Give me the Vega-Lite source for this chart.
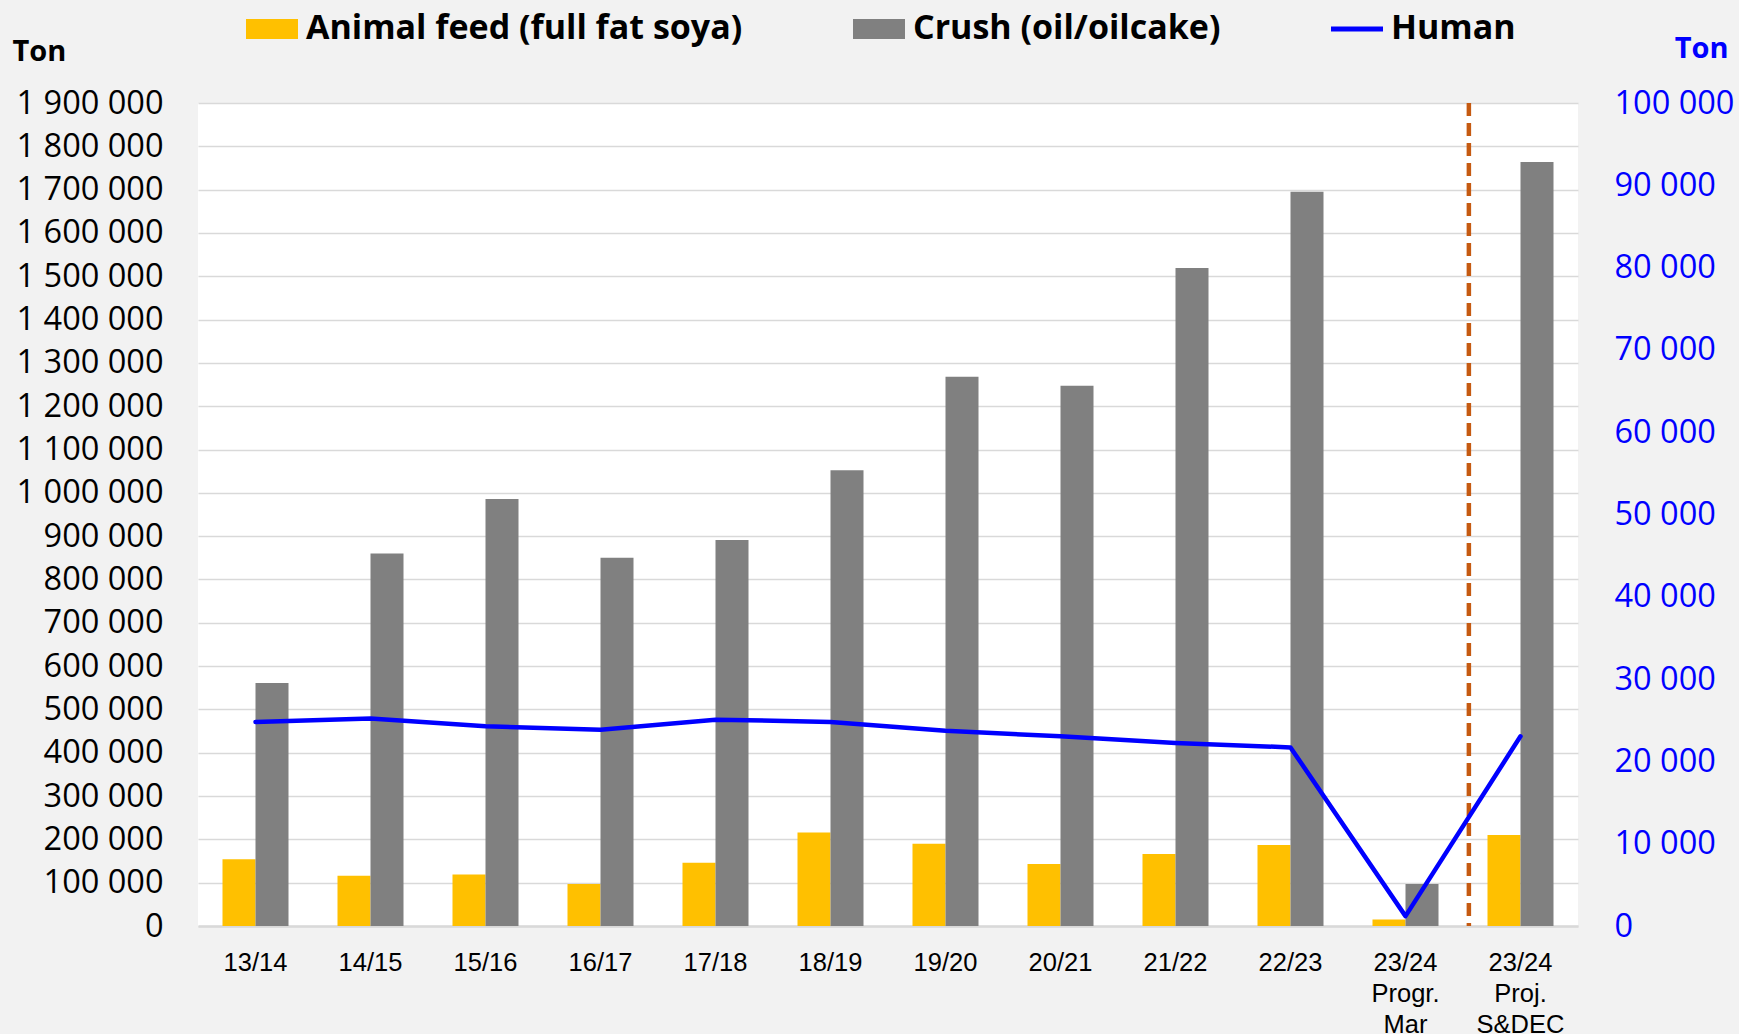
{
  "$schema": "https://vega.github.io/schema/vega-lite/v6.json",
  "width": 1380,
  "height": 823,
  "autosize": {"type": "none"},
  "padding": {"left": 198, "top": 103, "right": 161, "bottom": 108},
  "background": "#F2F2F2",
  "config": {
    "view": {"fill": "#FFFFFF", "stroke": null},
    "axis": {"ticks": false}
  },
  "datasets": {
    "bars": [
      {"cat": "13/14", "series": "Animal feed (full fat soya)", "value": 154000},
      {"cat": "13/14", "series": "Crush (oil/oilcake)", "value": 561000},
      {"cat": "14/15", "series": "Animal feed (full fat soya)", "value": 116000},
      {"cat": "14/15", "series": "Crush (oil/oilcake)", "value": 860000},
      {"cat": "15/16", "series": "Animal feed (full fat soya)", "value": 119000},
      {"cat": "15/16", "series": "Crush (oil/oilcake)", "value": 986000},
      {"cat": "16/17", "series": "Animal feed (full fat soya)", "value": 97000},
      {"cat": "16/17", "series": "Crush (oil/oilcake)", "value": 850000},
      {"cat": "17/18", "series": "Animal feed (full fat soya)", "value": 146000},
      {"cat": "17/18", "series": "Crush (oil/oilcake)", "value": 891000},
      {"cat": "18/19", "series": "Animal feed (full fat soya)", "value": 216000},
      {"cat": "18/19", "series": "Crush (oil/oilcake)", "value": 1052000},
      {"cat": "19/20", "series": "Animal feed (full fat soya)", "value": 190000},
      {"cat": "19/20", "series": "Crush (oil/oilcake)", "value": 1268000},
      {"cat": "20/21", "series": "Animal feed (full fat soya)", "value": 143000},
      {"cat": "20/21", "series": "Crush (oil/oilcake)", "value": 1247000},
      {"cat": "21/22", "series": "Animal feed (full fat soya)", "value": 166000},
      {"cat": "21/22", "series": "Crush (oil/oilcake)", "value": 1519000},
      {"cat": "22/23", "series": "Animal feed (full fat soya)", "value": 187000},
      {"cat": "22/23", "series": "Crush (oil/oilcake)", "value": 1695000},
      {"cat": "23/24|Progr.|Mar", "series": "Animal feed (full fat soya)", "value": 15000},
      {"cat": "23/24|Progr.|Mar", "series": "Crush (oil/oilcake)", "value": 97000},
      {"cat": "23/24|Proj.|S&DEC", "series": "Animal feed (full fat soya)", "value": 210000},
      {"cat": "23/24|Proj.|S&DEC", "series": "Crush (oil/oilcake)", "value": 1764000}
    ],
    "human": [
      {"cat": "13/14", "value": 24800},
      {"cat": "14/15", "value": 25200},
      {"cat": "15/16", "value": 24260},
      {"cat": "16/17", "value": 23850},
      {"cat": "17/18", "value": 25070},
      {"cat": "18/19", "value": 24800},
      {"cat": "19/20", "value": 23720},
      {"cat": "20/21", "value": 23050},
      {"cat": "21/22", "value": 22240},
      {"cat": "22/23", "value": 21700},
      {"cat": "23/24|Progr.|Mar", "value": 1200},
      {"cat": "23/24|Proj.|S&DEC", "value": 23050}
    ]
  },
  "layer": [
    {
      "data": {"name": "bars"},
      "mark": {"type": "bar"},
      "encoding": {
        "x": {
          "field": "cat", "type": "nominal", "sort": null,
          "scale": {"type": "band", "paddingInner": 0.426, "paddingOuter": 0.213,
            "domain": ["13/14","14/15","15/16","16/17","17/18","18/19","19/20","20/21","21/22","22/23","23/24|Progr.|Mar","23/24|Proj.|S&DEC"]},
          "axis": {
            "title": null,
            "labelAngle": 0,
            "labelExpr": "split(datum.label, '|')",
            "labelFont": "Liberation Sans, Arial",
            "labelFontSize": 25.5,
            "labelColor": "#000000",
            "labelLineHeight": 31,
            "labelPadding": 24,
            "domainColor": "#D9D9D9",
            "domainWidth": 2.5,
            "grid": false
          }
        },
        "xOffset": {"field": "series", "type": "nominal", "sort": ["Animal feed (full fat soya)", "Crush (oil/oilcake)"], "scale": {"paddingInner": 0, "paddingOuter": 0}},
        "y": {
          "field": "value", "type": "quantitative",
          "scale": {"domain": [0, 1900000], "nice": false},
          "axis": {
            "orient": "left",
            "values": [0,100000,200000,300000,400000,500000,600000,700000,800000,900000,1000000,1100000,1200000,1300000,1400000,1500000,1600000,1700000,1800000,1900000],
            "labelExpr": "replace(format(datum.value, ','), regexp(',', 'g'), ' ')",
            "labelFont": "Open Sans",
            "labelFontSize": 32.5,
            "labelColor": "#000000",
            "labelPadding": 35,
            "domain": false,
            "grid": true,
            "gridColor": "#D9D9D9",
            "gridWidth": 1.5,
            "title": "Ton",
            "titleFont": "Open Sans",
            "titleFontSize": 29,
            "titleFontWeight": "bold",
            "titleColor": "#000000",
            "titleAngle": 0,
            "titleAlign": "left",
            "titleBaseline": "middle",
            "titleX": -186,
            "titleY": -52
          }
        },
        "color": {
          "field": "series", "type": "nominal",
          "scale": {"domain": ["Animal feed (full fat soya)", "Crush (oil/oilcake)", "Human"], "range": ["#FFC000", "#808080", "#0000FF"]},
          "legend": {
            "title": null,
            "orient": "none",
            "direction": "horizontal",
            "legendX": 48,
            "legendY": -100,
            "padding": 0,
            "symbolSize": 2704,
            "labelFont": "Open Sans",
            "labelFontSize": 34,
            "labelFontWeight": "bold",
            "labelColor": "#000000",
            "labelLimit": 800,
            "labelOffset": 8,
            "columnPadding": 110,
            "encode": {
              "symbols": {
                "update": {
                  "shape": {"signal": "datum.value === 'Human' ? 'M-1,-0.095H1V0.095H-1Z' : 'M-1,-0.385H1V0.385H-1Z'"},
                  "fill": {"signal": "scale('color', datum.value)"},
                  "stroke": {"value": "transparent"},
                  "strokeWidth": {"value": 0},
                  "opacity": {"value": 1},
                  "fillOpacity": {"value": 1}
                }
              }
            }
          }
        }
      }
    },
    {
      "data": {"values": [{}]},
      "mark": {"type": "rule", "color": "#C55A11", "strokeWidth": 4.5, "strokeDash": [13, 7]},
      "encoding": {
        "x": {"datum": "23/24|Progr.|Mar", "type": "nominal", "bandPosition": 1.46}
      }
    },
    {
      "data": {"name": "human"},
      "mark": {"type": "line", "strokeWidth": 4.5, "strokeJoin": "round", "strokeCap": "round"},
      "encoding": {
        "x": {"field": "cat", "type": "nominal", "sort": null},
        "y": {
          "field": "value", "type": "quantitative",
          "scale": {"domain": [0, 100000], "nice": false},
          "axis": {
            "orient": "right",
            "values": [0,10000,20000,30000,40000,50000,60000,70000,80000,90000,100000],
            "labelExpr": "replace(format(datum.value, ','), regexp(',', 'g'), ' ')",
            "labelFont": "Open Sans",
            "labelFontSize": 32.5,
            "labelColor": "#0000FF",
            "labelPadding": 36,
            "domain": false,
            "grid": false,
            "title": "Ton",
            "titleFont": "Open Sans",
            "titleFontSize": 29,
            "titleFontWeight": "bold",
            "titleColor": "#0000FF",
            "titleAngle": 0,
            "titleAlign": "right",
            "titleBaseline": "middle",
            "titleX": 150,
            "titleY": -55
          }
        },
        "color": {"datum": "Human", "type": "nominal"}
      }
    }
  ],
  "resolve": {"scale": {"y": "independent"}}
}
